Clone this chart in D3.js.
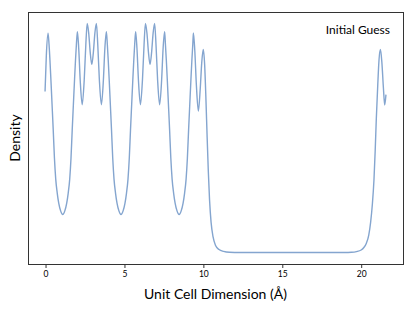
<!DOCTYPE html>
<html>
<head>
<meta charset="utf-8">
<script src="https://cdn.jsdelivr.net/npm/d3@7"></script>
<style>
  html, body { margin: 0; padding: 0; background: #fff; }
  svg { display: block; }
  text { font-family: Lato, "DejaVu Sans", sans-serif; fill: #000; }
</style>
</head>
<body>
<svg id="chart" width="415" height="311"></svg>
<script>
// Unit cell dimension (Å)
const cellX = [
  0.000, 0.082, 0.190, 0.253, 0.310, 0.373, 0.443, 0.519, 0.595, 0.677, 0.772, 0.867, 0.993,
  1.120, 1.247, 1.373, 1.468, 1.563, 1.645, 1.721, 1.797, 1.867, 1.930, 1.987,
  2.051, 2.133, 2.228, 2.354, 2.481, 2.582, 2.671, 2.766, 2.861, 2.962, 3.063, 3.158, 3.253,
  3.342, 3.443, 3.570, 3.696, 3.791, 3.886,
  3.946, 4.003, 4.066, 4.136, 4.212, 4.288, 4.370, 4.465, 4.560, 4.686,
  4.813, 4.940, 5.066, 5.161, 5.256, 5.338, 5.414, 5.490, 5.560, 5.623, 5.680,
  5.741, 5.823, 5.918, 6.044, 6.171, 6.272, 6.361, 6.456, 6.551, 6.652, 6.753, 6.848, 6.943,
  7.032, 7.133, 7.260, 7.386, 7.481, 7.576,
  7.627, 7.684, 7.747, 7.817, 7.893, 7.969, 8.051, 8.146, 8.241, 8.367,
  8.494, 8.621, 8.747, 8.842, 8.937, 9.019, 9.095, 9.171, 9.241, 9.304, 9.361,
  9.399, 9.487, 9.589, 9.715, 9.835, 9.930, 10.025,
  10.114, 10.196, 10.266, 10.342, 10.424, 10.519, 10.646, 10.804, 11.025, 11.310, 11.690, 12.320,
  13.000, 14.000, 15.000, 16.000, 17.000, 18.000, 19.000,
  19.410, 19.730, 20.030, 20.200, 20.360, 20.510, 20.630, 20.740, 20.840, 20.920, 20.990,
  21.080, 21.160, 21.250, 21.340, 21.440, 21.520, 21.600
];
// Density (arbitrary units)
const density = [
  0.704, 0.862, 0.958, 0.910, 0.841, 0.753, 0.649, 0.535, 0.413, 0.321, 0.260, 0.216, 0.181,
  0.166, 0.181, 0.216, 0.260, 0.321, 0.413, 0.535, 0.649, 0.753, 0.841, 0.910,
  0.965, 0.893, 0.753, 0.646, 0.753, 0.906, 1.001, 0.959, 0.876, 0.822, 0.876, 0.959, 1.001,
  0.906, 0.753, 0.646, 0.753, 0.893, 0.965,
  0.910, 0.841, 0.753, 0.649, 0.535, 0.413, 0.321, 0.260, 0.216, 0.181,
  0.166, 0.181, 0.216, 0.260, 0.321, 0.413, 0.535, 0.649, 0.753, 0.841, 0.910,
  0.965, 0.893, 0.753, 0.646, 0.753, 0.906, 1.001, 0.959, 0.876, 0.822, 0.876, 0.959, 1.001,
  0.906, 0.753, 0.646, 0.753, 0.893, 0.965,
  0.910, 0.841, 0.753, 0.649, 0.535, 0.413, 0.321, 0.260, 0.216, 0.181,
  0.166, 0.181, 0.216, 0.260, 0.321, 0.413, 0.535, 0.649, 0.753, 0.841, 0.910,
  0.960, 0.884, 0.731, 0.618, 0.718, 0.832, 0.887,
  0.819, 0.666, 0.513, 0.360, 0.229, 0.133, 0.068, 0.031, 0.013, 0.005, 0.001, 0.000,
  0.000, 0.000, 0.000, 0.000, 0.000, 0.000, 0.000,
  0.001, 0.004, 0.011, 0.022, 0.041, 0.076, 0.133, 0.212, 0.317, 0.448, 0.587,
  0.731, 0.841, 0.887, 0.832, 0.718, 0.645, 0.690
];
const xTicks = [0, 5, 10, 15, 20];
const xLabel = "Unit Cell Dimension (Å)";
const yLabel = "Density";
const legendLabel = "Initial Guess";

const points = cellX.map((x, i) => ({ x, y: density[i] }));

const svg = d3.select("#chart");
const W = 415, H = 311;
const m = { left: 28, right: 12, top: 12, bottom: 47 };
const pw = W - m.left - m.right, ph = H - m.top - m.bottom;

const [x0, x1] = d3.extent(cellX);
const [y0, y1] = d3.extent(density);
const xPad = (x1 - x0) * 0.05, yPad = (y1 - y0) * 0.05;

const x = d3.scaleLinear().domain([x0 - xPad, x1 + xPad]).range([m.left, m.left + pw]);
const y = d3.scaleLinear().domain([y0 - yPad, y1 + yPad]).range([m.top + ph, m.top]);

// curve
const line = d3.line().x(d => x(d.x)).y(d => y(d.y)).curve(d3.curveMonotoneX);
svg.append("path")
  .datum(points)
  .attr("d", line)
  .attr("fill", "none")
  .attr("stroke", "#84a5cf")
  .attr("stroke-width", 1.4)
  .attr("stroke-linejoin", "round");

// frame
svg.append("rect")
  .attr("x", m.left + 0.5).attr("y", m.top + 0.5)
  .attr("width", pw).attr("height", ph)
  .attr("fill", "none").attr("stroke", "#333").attr("stroke-width", 1);

// x axis
const xAxis = d3.axisBottom(x).tickValues(xTicks).tickSize(3.5).tickPadding(3).tickFormat(d3.format("d"));
const gx = svg.append("g").attr("transform", `translate(0.5,${m.top + ph + 0.5})`).call(xAxis);
gx.select(".domain").remove();
gx.selectAll(".tick line").attr("stroke", "#333");
gx.selectAll(".tick text").style("font-family", "Lato, 'DejaVu Sans', sans-serif").style("font-size", "8.5px").attr("fill", "#000");

svg.append("text")
  .attr("x", m.left + pw / 2).attr("y", 299)
  .attr("text-anchor", "middle")
  .style("font-size", "14px")
  .text(xLabel);

svg.append("text")
  .attr("transform", `translate(20,${m.top + ph / 2}) rotate(-90)`)
  .attr("text-anchor", "middle")
  .style("font-size", "14px")
  .text(yLabel);

svg.append("text")
  .attr("x", 390).attr("y", 34)
  .attr("text-anchor", "end")
  .style("font-size", "12px")
  .text(legendLabel);
</script>
</body>
</html>
